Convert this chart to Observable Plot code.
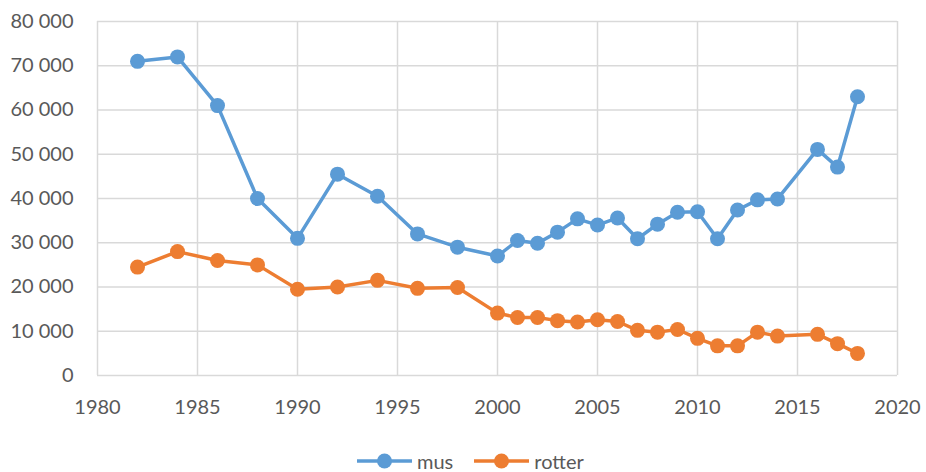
<!DOCTYPE html>
<html>
<head>
<meta charset="utf-8">
<script src="https://cdn.jsdelivr.net/npm/d3@7"></script>
<script src="https://cdn.jsdelivr.net/npm/@observablehq/plot@0.6"></script>
<style>
  html, body { margin: 0; padding: 0; background: #fff; }
  #chart { width: 926px; height: 472px; position: relative; font-family: Lato, "Open Sans", sans-serif; }
  #legend { position: absolute; left: 0; top: 448px; width: 926px; height: 26px; display: flex; justify-content: flex-start; align-items: center; box-sizing: border-box; padding-left: 357px; font-size: 20px; color: #595959; }
  .item { display: flex; align-items: center; gap: 5px; margin-right: 21px; }
</style>
</head>
<body>
<div id="chart"></div>
<script>
const years = [1982, 1984, 1986, 1988, 1990, 1992, 1994, 1996, 1998, 2000, 2001, 2002, 2003, 2004, 2005, 2006, 2007, 2008, 2009, 2010, 2011, 2012, 2013, 2014, 2016, 2017, 2018];
const mus = [71000, 72000, 61000, 40000, 31000, 45500, 40500, 32000, 29000, 27000, 30500, 29900, 32400, 35400, 34000, 35600, 30900, 34200, 36900, 37000, 30900, 37400, 39700, 39900, 51100, 47100, 63000];
const rotter = [24500, 28000, 26000, 25000, 19500, 20000, 21500, 19700, 19900, 14100, 13100, 13100, 12400, 12100, 12600, 12200, 10200, 9800, 10400, 8400, 6700, 6700, 9800, 8900, 9300, 7200, 5000];
const seriesNames = ["mus", "rotter"];
const seriesColors = ["#5B9BD5", "#ED7D31"];
const xTicks = [1980, 1985, 1990, 1995, 2000, 2005, 2010, 2015, 2020];
const yTicks = [0, 10000, 20000, 30000, 40000, 50000, 60000, 70000, 80000];

const data = [];
years.forEach((y, i) => {
  data.push({year: y, value: mus[i], series: seriesNames[0]});
  data.push({year: y, value: rotter[i], series: seriesNames[1]});
});

const fmt = d => d3.format(",")(d).replace(/,/g, " ");
const grid = "#d9d9d9";

const plot = Plot.plot({
  width: 926,
  height: 448,
  marginTop: 21,
  marginBottom: 73,
  marginLeft: 97,
  marginRight: 29,
  style: {fontFamily: "Lato, 'Open Sans', sans-serif", fontSize: "20px", color: "#595959", background: "#fff"},
  x: {domain: [1980, 2020], ticks: xTicks, tickFormat: d => String(d), label: null, tickSize: 0, tickPadding: 24},
  y: {domain: [0, 80000], ticks: yTicks, tickFormat: fmt, label: null, tickSize: 0, tickPadding: 24},
  color: {domain: seriesNames, range: seriesColors},
  marks: [
    Plot.gridX(xTicks, {stroke: grid, strokeOpacity: 1, strokeWidth: 1.5}),
    Plot.gridY(yTicks, {stroke: grid, strokeOpacity: 1, strokeWidth: 1.5}),
    Plot.axisX({ticks: xTicks, tickFormat: d => String(d), tickSize: 0, tickPadding: 24, fill: "#595959", fontSize: 20, label: null}),
    Plot.axisY({ticks: yTicks, tickFormat: fmt, tickSize: 0, tickPadding: 24, fill: "#595959", fontSize: 20, label: null}),
    Plot.line(data, {x: "year", y: "value", stroke: "series", strokeWidth: 3.5, curve: "linear"}),
    Plot.dot(data, {x: "year", y: "value", fill: "series", r: 7.5, stroke: null})
  ]
});

const chart = document.getElementById("chart");
chart.appendChild(plot);

const legend = document.createElement("div");
legend.id = "legend";
seriesNames.forEach((name, i) => {
  const item = document.createElement("div");
  item.className = "item";
  item.innerHTML = `<svg width="55" height="18"><line x1="0" y1="9" x2="55" y2="9" stroke="${seriesColors[i]}" stroke-width="3.5"/><circle cx="27.5" cy="9" r="7.5" fill="${seriesColors[i]}"/></svg><span>${name}</span>`;
  legend.appendChild(item);
});
chart.appendChild(legend);
</script>
</body>
</html>
